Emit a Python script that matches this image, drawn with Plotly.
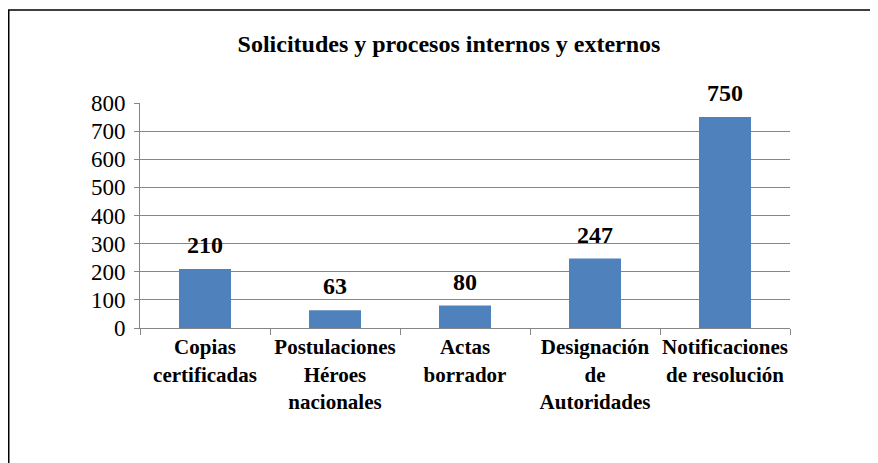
import plotly.graph_objects as go

categories = ["Copias<br>certificadas", "Postulaciones<br>Héroes<br>nacionales", "Actas<br>borrador",
              "Designación<br>de<br>Autoridades", "Notificaciones<br>de resolución"]
values = [210, 63, 80, 247, 750]
y_ticks = [0, 100, 200, 300, 400, 500, 600, 700, 800]

SERIF = "Liberation Serif"

fig = go.Figure(go.Bar(
    x=categories, y=values,
    marker=dict(color="#4F81BD", line=dict(width=0)),
))

# value labels above bars
for c, v in zip(categories, values):
    fig.add_annotation(x=c, y=v, text=f"<b>{v}</b>", showarrow=False,
                       xanchor="center", yanchor="bottom", yshift=9,
                       font=dict(family=SERIF, size=24, color="black"))

# page is offset by 8px body margin
W, H = 870, 455
L, T = 132, 95
R = W - 782
B = H - 320
pw, ph = W - L - R, H - T - B

fig.update_layout(
    template="none",
    width=W, height=H,
    margin=dict(l=L, r=R, t=T, b=B),
    paper_bgcolor="white", plot_bgcolor="white",
    bargap=0.6,
    showlegend=False,
    font=dict(family=SERIF, color="black"),
    title=dict(text="<b>Solicitudes y procesos internos y externos</b>",
               font=dict(family=SERIF, size=24, color="black"),
               x=441 / W, xanchor="center", y=1 - 36 / H, yanchor="middle"),
    xaxis=dict(
        showline=True, linecolor="#868686", linewidth=1,
        ticks="outside", tickson="boundaries", ticklen=6, tickcolor="#868686",
        tickangle=0,
        tickfont=dict(family=SERIF, size=21, color="black", weight="bold"),
        showgrid=False,
    ),
    yaxis=dict(
        range=[0, 800], tickvals=y_ticks,
        showline=True, linecolor="#868686", linewidth=1,
        ticks="outside", ticklen=5, tickcolor="#868686",
        ticklabelstandoff=4,
        showgrid=True, gridcolor="#868686", gridwidth=1,
        tickfont=dict(family=SERIF, size=23, color="black"),
        zeroline=False,
    ),
)

# outer frame
fig.add_shape(type="rect", xref="paper", yref="paper",
              x0=(0.75 - L) / pw, x1=(W + 10 - L) / pw,
              y0=(H - B - 480) / ph, y1=(H - B - 2) / ph,
              line=dict(color="black", width=1.5), fillcolor="rgba(0,0,0,0)")

fig.write_html("out.html")
